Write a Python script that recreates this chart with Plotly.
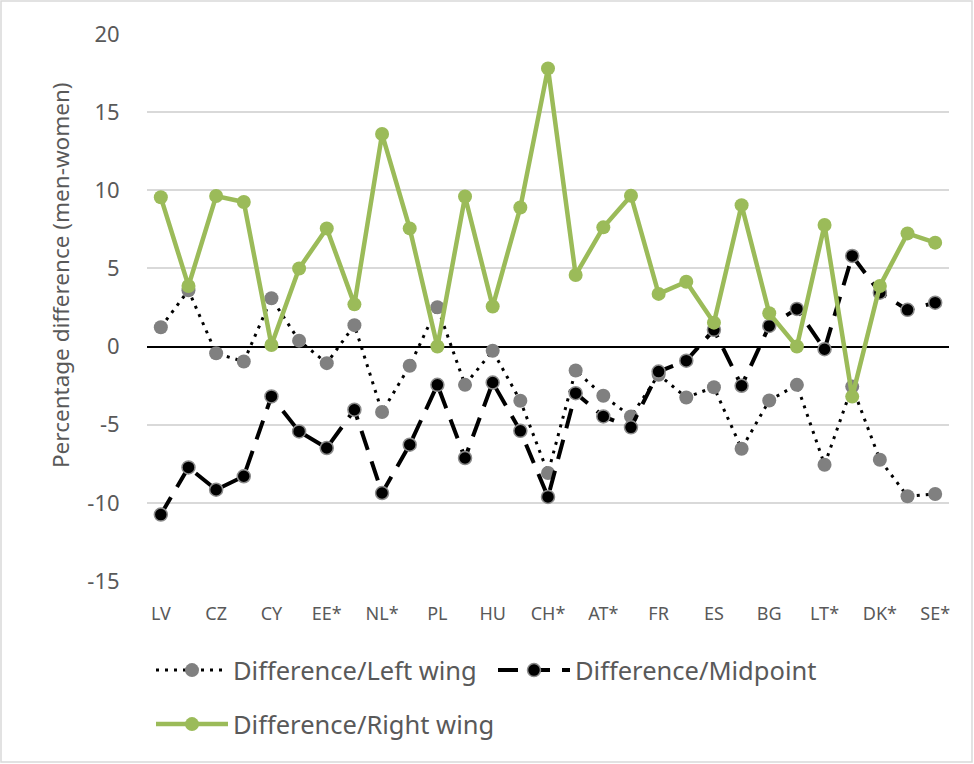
import plotly.graph_objects as go

# Tick labels shown on the category axis (every second country is labelled)
tick_labels = ["LV", "CZ", "CY", "EE*", "NL*", "PL", "HU", "CH*", "AT*", "FR",
               "ES", "BG", "LT*", "DK*", "SE*"]
n_countries = 29
positions = list(range(n_countries))

left_wing = [1.24, 3.6, -0.43, -0.96, 3.09, 0.38, -1.06, 1.37, -4.19, -1.23,
             2.52, -2.45, -0.27, -3.47, -8.09, -1.53, -3.15, -4.47, -1.8, -3.26,
             -2.6, -6.54, -3.45, -2.45, -7.56, -2.56, -7.24, -9.58, -9.43]

midpoint = [-10.75, -7.73, -9.16, -8.3, -3.19, -5.43, -6.49, -4.04, -9.37, -6.28,
            -2.45, -7.13, -2.3, -5.39, -9.62, -2.98, -4.47, -5.17, -1.6, -0.9,
            1.07, -2.51, 1.32, 2.41, -0.17, 5.8, 3.45, 2.35, 2.81]

right_wing = [9.55, 3.88, 9.63, 9.25, 0.1, 5.0, 7.56, 2.7, 13.6, 7.56,
              0.0, 9.6, 2.56, 8.9, 17.8, 4.58, 7.63, 9.65, 3.37, 4.15,
              1.53, 9.05, 2.13, 0.0, 7.78, -3.2, 3.88, 7.24, 6.65]

y_ticks = [-15, -10, -5, 0, 5, 10, 15, 20]
y_tick_text = ["-15", "-10", "-5", "0", "5", "10", "15", "20"]
y_title = "Percentage difference (men-women)"

FONT = "Noto Sans"
GRAY_TXT = "#595959"

fig = go.Figure()
fig.add_trace(go.Scatter(
    x=positions, y=left_wing, mode="lines+markers", name="Difference/Left wing",
    line=dict(color="black", width=3, dash="3px,6px"),
    marker=dict(color="#808080", size=14, line=dict(width=0)),
    legend="legend",
))
fig.add_trace(go.Scatter(
    x=positions, y=midpoint, mode="lines+markers", name="Difference/Midpoint",
    line=dict(color="black", width=4, dash="20px,12px"),
    marker=dict(color="black", size=13, line=dict(color="#8c8c8c", width=1.5)),
    legend="legend",
))
fig.add_trace(go.Scatter(
    x=positions, y=right_wing, mode="lines+markers", name="Difference/Right wing",
    line=dict(color="#9BBB59", width=4.5),
    marker=dict(color="#9BBB59", size=14),
    legend="legend2",
))

W, H = 974, 764
L, R, T, B = 147, 25, 34, 183
pw, ph = W - L - R, H - T - B

def px_x(p):
    return (p - L) / pw

def px_y(p):
    return (H - B - p) / ph

fig.add_shape(type="rect", xref="paper", yref="paper",
              x0=px_x(1), x1=px_x(W - 2), y0=px_y(H - 2), y1=px_y(1),
              line=dict(color="#d9d9d9", width=1.5), fillcolor="rgba(0,0,0,0)",
              layer="below")

fig.add_annotation(
    text=y_title, xref="paper", yref="paper", x=px_x(60), y=px_y(275),
    xanchor="center", yanchor="middle", textangle=-90, showarrow=False,
    font=dict(size=22.5, color=GRAY_TXT, family=FONT),
)

fig.update_layout(
    width=W, height=H,
    margin=dict(l=L, r=R, t=T, b=B),
    paper_bgcolor="white", plot_bgcolor="white",
    font=dict(family=FONT, color=GRAY_TXT),
    xaxis=dict(
        range=[-0.5, n_countries - 0.5],
        tickmode="array",
        tickvals=positions[::2],
        ticktext=tick_labels,
        tickfont=dict(size=18, color=GRAY_TXT),
        showgrid=False, zeroline=False, showline=False,
        ticks="outside", ticklen=16, tickcolor="rgba(0,0,0,0)",
    ),
    yaxis=dict(
        range=[-15, 20],
        tickmode="array", tickvals=y_ticks, ticktext=y_tick_text,
        tickfont=dict(size=22, color=GRAY_TXT),
        showgrid=True, gridcolor="#d9d9d9", gridwidth=1.5,
        zeroline=True, zerolinecolor="black", zerolinewidth=1.5,
        showline=False,
        ticks="outside", ticklen=22, tickcolor="rgba(0,0,0,0)",
    ),
    legend=dict(
        orientation="h", x=px_x(151), y=px_y(647), xanchor="left", yanchor="top",
        font=dict(size=25.5, color=GRAY_TXT), bgcolor="rgba(0,0,0,0)",
        itemwidth=72, entrywidth=255, entrywidthmode="pixels",
    ),
    legend2=dict(
        orientation="h", x=px_x(151), y=px_y(701), xanchor="left", yanchor="top",
        font=dict(size=25.5, color=GRAY_TXT), bgcolor="rgba(0,0,0,0)",
        itemwidth=72,
    ),
    showlegend=True,
)

fig.write_html("out.html",
               config={"displayModeBar": False},
               post_script="document.body.style.margin='0';document.body.style.padding='0';")
